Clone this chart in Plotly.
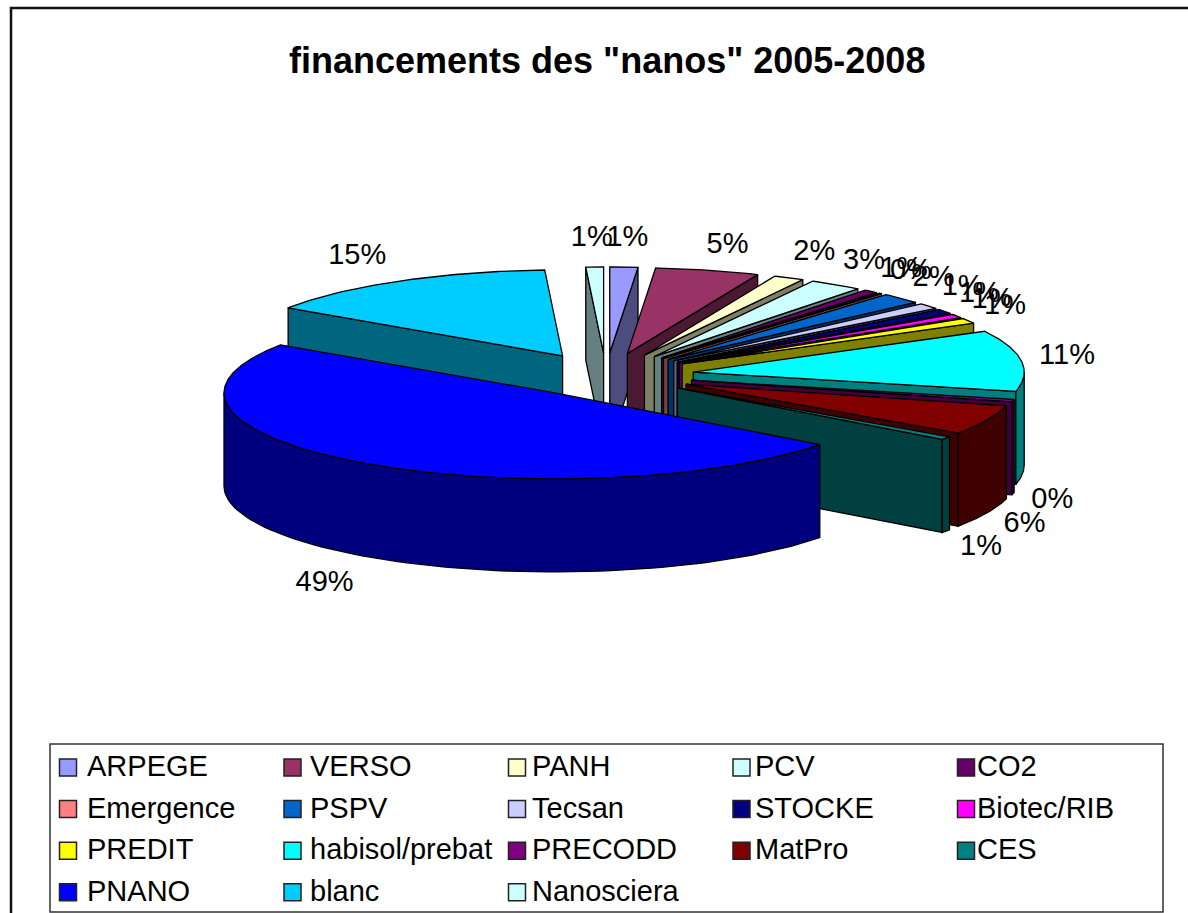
import numpy as np
import plotly.graph_objects as go

# Data (share of funding, percent)
CATEGORIES = ["ARPEGE", "VERSO", "PANH", "PCV", "CO2", "Emergence", "PSPV", "Tecsan", "STOCKE",
              "Biotec/RIB", "PREDIT", "habisol/prebat", "PRECODD", "MatPro", "CES", "PNANO", "blanc", "Nanosciera"]
VALUES = [1.36, 5.08, 1.5, 2.6, 0.7, 0.2, 2.0, 1.1, 0.9, 0.7, 1.0, 11.45, 0.45, 5.6, 0.6, 49.2, 14.7, 0.86]
COLORS = ["#9999FF", "#993366", "#FFFFCC", "#CCFFFF", "#660066", "#FF8080", "#0066CC", "#CCCCFF", "#000080",
          "#FF00FF", "#FFFF00", "#00FFFF", "#800080", "#800000", "#008080", "#0000FF", "#00CCFF", "#CCFFFF"]
TITLE = 'financements des "nanos" 2005-2008'

# Projection of the exploded 3D pie on the page (pixels)
CX, CY = 606, 375
EXPLODE_X, EXPLODE_Y = 88, 22
RX, RY = 331, 86
DEPTH = 93
FONT = "Liberation Sans, Arial, sans-serif"
OUTLINE = "#000000"
# small placement corrections for a few percentage labels
LABEL_NUDGE = {"PNANO": (5, 5), "blanc": (-3, 0), "habisol/prebat": (6, 0), "VERSO": (0, 3)}

v = np.array(VALUES, float)
edges = np.concatenate([[0], np.cumsum(v)]) / v.sum() * 360


def darken(c):
    r, g, b = int(c[1:3], 16), int(c[3:5], 16), int(c[5:7], 16)
    return f"rgb({r//2},{g//2},{b//2})"


def rim(ax, ay, th):
    t = np.radians(th)
    return ax + RX * np.sin(t), ay - RY * np.cos(t)


def poly(fig, xs, ys, fill, name):
    fig.add_trace(go.Scatter(x=list(xs), y=list(ys), mode="lines", fill="toself", fillcolor=fill,
                             line=dict(color=OUTLINE, width=1.3), hoverinfo="skip",
                             showlegend=False, name=name))


fig = go.Figure()
labels = []
n = len(v)
# back to front: right-hand cluster clockwise, then the left side, the big front slice last
order = list(range(n))
front = int(np.argmax(v))
order = [i for i in order if i < front] + [i for i in order[::-1] if i > front] + [front]
for i in order:
    t0, t1 = edges[i], edges[i + 1]
    mid = np.radians((t0 + t1) / 2)
    s, c = np.sin(mid), np.cos(mid)
    ax, ay = CX + EXPLODE_X * s, CY - EXPLODE_Y * c
    wall = darken(COLORS[i])

    # cut faces turned to the viewer
    for th, visible in ((t1, np.sin(np.radians(t1)) > 0), (t0, np.sin(np.radians(t0)) < 0)):
        if visible:
            rx, ry = rim(ax, ay, th)
            poly(fig, [ax, rx, rx, ax, ax], [ay, ry, ry + DEPTH, ay + DEPTH, ay], wall, CATEGORIES[i])

    # outer wall on the front half
    lo, hi = max(t0, 90), min(t1, 270)
    if hi > lo:
        th = np.linspace(lo, hi, 80)
        rx, ry = rim(ax, ay, th)
        poly(fig, np.r_[rx, rx[::-1], rx[0]], np.r_[ry, ry[::-1] + DEPTH, ry[0]], wall, CATEGORIES[i])

    # top face
    th = np.linspace(t0, t1, max(4, int((t1 - t0) * 2)))
    rx, ry = rim(ax, ay, th)
    poly(fig, np.r_[ax, rx, ax], np.r_[ay, ry, ay], COLORS[i], CATEGORIES[i])

    # percentage label
    nx, ny = LABEL_NUDGE.get(CATEGORIES[i], (0, 0))
    lx = CX + (445 if s > 0 else 470) * s + 14 * np.clip(4 * s, -1, 1) + nx
    ly = CY - 136 * c + (DEPTH if c < 0 else 0) + ny
    labels.append((lx, ly, f"{v[i] / v.sum() * 100:.0f}%"))

fig.add_trace(go.Scatter(x=[p[0] for p in labels], y=[p[1] for p in labels], mode="text",
                         text=[p[2] for p in labels], textposition="middle center",
                         textfont=dict(family=FONT, size=29, color="black"),
                         hoverinfo="skip", showlegend=False))

# Legend grid, 5 columns
cols = 5
col0, col_step = 68, 224.5
text0, text_step = 87, 222.6
row0, row_step = 767.5, 41.6
for i, (cat, col) in enumerate(zip(CATEGORIES, COLORS)):
    y = row0 + (i // cols) * row_step
    fig.add_trace(go.Scatter(x=[col0 + (i % cols) * col_step], y=[y], mode="markers",
                             marker=dict(symbol="square", size=17, color=col, line=dict(color="#222222", width=1.5)),
                             hoverinfo="skip", showlegend=False, name=cat))
    fig.add_annotation(x=text0 + (i % cols) * text_step, y=y, xref="x", yref="y", text=cat, showarrow=False,
                       xanchor="left", yanchor="middle", xshift=-2, yshift=1.5,
                       font=dict(family=FONT, size=29, color="black"))

fig.update_layout(
    width=1188, height=913, autosize=False,
    margin=dict(l=0, r=0, t=0, b=0),
    paper_bgcolor="white", plot_bgcolor="white",
    showlegend=False,
    xaxis=dict(range=[0, 1188], visible=False, fixedrange=True),
    yaxis=dict(range=[913, 0], visible=False, fixedrange=True),
    shapes=[
        dict(type="rect", x0=11, y0=8, x1=1300, y1=1000, line=dict(color="#111111", width=2.5), layer="below"),
        dict(type="rect", x0=50, y0=744, x1=1163, y1=912, line=dict(color="#333333", width=1.5), layer="below"),
    ],
)
fig.add_annotation(text=f"<b>{TITLE}</b>", x=607, y=60, xref="x", yref="y", showarrow=False,
                   xanchor="center", yanchor="middle", font=dict(family=FONT, size=36, color="black"))
fig.write_html("out.html", config={"displayModeBar": False},
               post_script="document.body.style.margin='0';document.body.style.overflow='hidden';")
